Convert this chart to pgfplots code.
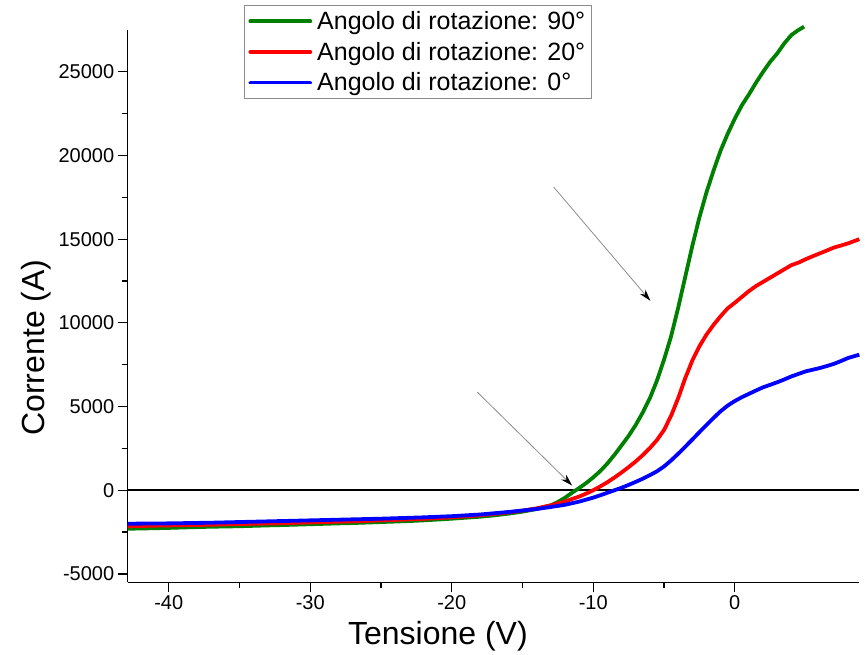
\documentclass[border=0pt]{standalone}
\usepackage{fontspec}
\setmainfont{Liberation Sans}
\usepackage{pgfplots}
\pgfplotsset{compat=1.18}
\usetikzlibrary{arrows.meta}
\definecolor{cgreen}{RGB}{0,128,0}
\definecolor{cred}{RGB}{255,0,0}
\definecolor{cblue}{RGB}{0,0,255}
\begin{document}
\begin{tikzpicture}
\useasboundingbox (0,0) rectangle (868pt,655pt);
\begin{axis}[
  at={(127.7pt,72.7pt)}, anchor=south west,
  scale only axis, width=731.6pt, height=552.3pt,
  xmin=-42.9, xmax=8.8, ymin=-5500, ymax=27500,
  axis lines=left, axis line style={-, line width=1.3pt, black},
  tick align=outside,
  xtick={-40,-30,-20,-10,0}, ytick={-5000,0,5000,10000,15000,20000,25000},
  minor x tick num=1, minor y tick num=1,
  major tick length=10pt, minor tick length=5.5pt,
  every tick/.style={black, line width=1.2pt},
  scaled y ticks=false, scaled x ticks=false,
  /pgf/number format/1000 sep={}, /pgf/number format/assume math mode=true,
  ticklabel style={font=\fontsize{20}{24}\selectfont},
  xlabel={Tensione (V)}, ylabel={Corrente (A)},
  label style={font=\fontsize{32}{38}\selectfont},
  xlabel style={at={(axis description cs:0.424,-0.097)}, anchor=center},
  ylabel style={at={(axis description cs:-0.1253,0.425)}, anchor=center},
  clip=false,
  legend cell align=left,
  legend style={at={(0.159,1.045)}, anchor=north west,
    font=\fontsize{25}{29}\selectfont, draw=black!45, line width=0.8pt,
    inner xsep=4pt, inner ysep=4pt, row sep=7pt,
    /tikz/every odd column/.append style={column sep=3pt}},
  legend image code/.code={\draw[#1, line cap=round] (0pt,0pt) -- (60pt,0pt);},
]
\addplot[black, line width=1.6pt, forget plot] coordinates {(-42.9,0) (8.8,0)};
\addplot[cgreen, line width=3.8pt] coordinates {
(-42.9,-2300) (-41,-2270) (-40,-2250) (-38,-2200) (-37,-2180) (-35,-2150) (-33,-2100) (-32,-2080) (-30,-2030)
(-28,-1980) (-27,-1960) (-25,-1900) (-23,-1840) (-22,-1800) (-20,-1700) (-19,-1640) (-18,-1580) (-17,-1500)
(-16,-1400) (-15,-1280) (-14,-1120) (-13,-900) (-12.5,-700) (-12,-450) (-11.5,-150) (-11,130) (-10.5,430)
(-10,770) (-9.5,1150) (-9,1600) (-8.5,2120) (-8,2680) (-7.5,3250) (-7,3900) (-6.5,4650) (-6,5500)
(-5.5,6550) (-5,7800) (-4.5,9200) (-4,10900) (-3.5,12750) (-3,14600) (-2.5,16300) (-2,17800) (-1.5,19100)
(-1,20300) (-0.5,21300) (0,22200) (0.5,23000) (1,23650) (1.5,24350) (2,25000) (2.5,25600) (3,26100)
(3.5,26700) (4,27200) (4.5,27500) (4.9,27700)
};
\addlegendentry{Angolo di rotazione: 90°}
\addplot[cred, line width=3.8pt] coordinates {
(-42.9,-2150) (-40,-2100) (-37,-2060) (-35,-2020) (-32,-1970) (-30,-1920) (-27,-1860) (-25,-1800) (-22,-1710)
(-20,-1620) (-18,-1500) (-16,-1330) (-15,-1220) (-14,-1080) (-13,-900) (-12,-680) (-11.5,-520) (-11,-380)
(-10.5,-200) (-10,0) (-9.5,230) (-9,480) (-8.5,760) (-8,1060) (-7.5,1380) (-7,1720) (-6.5,2100) (-6,2520)
(-5.5,3000) (-5,3600) (-4.5,4450) (-4,5500) (-3.5,6700) (-3,7750) (-2.5,8600) (-2,9300) (-1.5,9880)
(-1,10400) (-0.5,10870) (0,11200) (0.5,11550) (1,11900) (1.5,12200) (2,12450) (2.5,12700) (3,12950)
(3.5,13200) (4,13450) (4.5,13600) (5,13800) (5.5,13980) (6,14150) (6.5,14320) (7,14500) (7.5,14620)
(8,14750) (8.8,15000)
};
\addlegendentry{Angolo di rotazione: 20°}
\addplot[cblue, line width=3.8pt] coordinates {
(-42.9,-2000) (-40,-1980) (-37,-1940) (-35,-1900) (-32,-1840) (-30,-1800) (-27,-1740) (-25,-1700) (-22,-1620)
(-20,-1550) (-18,-1450) (-16,-1300) (-14,-1120) (-13,-1000) (-12,-870) (-11,-680) (-10.5,-560) (-10,-440)
(-9.5,-300) (-9,-150) (-8.5,0) (-8,150) (-7.5,320) (-7,500) (-6.5,690) (-6,900) (-5.5,1130) (-5,1420)
(-4.5,1780) (-4,2180) (-3.5,2600) (-3,3030) (-2.5,3470) (-2,3900) (-1.5,4320) (-1,4720) (-0.5,5060)
(0,5330) (0.5,5560) (1,5760) (1.5,5960) (2,6150) (2.5,6300) (3,6450) (3.5,6620) (4,6800) (4.5,6950)
(5,7100) (5.5,7200) (6,7300) (6.5,7420) (7,7550) (7.5,7720) (8,7900) (8.8,8100)
};
\addlegendentry{Angolo di rotazione: 0°}
\draw[black!45, line width=0.8pt, -{Stealth[length=12pt,width=7pt,color=black]}]
  (axis cs:-12.79,18108) -- (axis cs:-5.96,11317);
\draw[black!45, line width=0.8pt, -{Stealth[length=12pt,width=7pt,color=black]}]
  (axis cs:-18.2,5868) -- (axis cs:-11.49,281);
\end{axis}
\end{tikzpicture}
\end{document}
